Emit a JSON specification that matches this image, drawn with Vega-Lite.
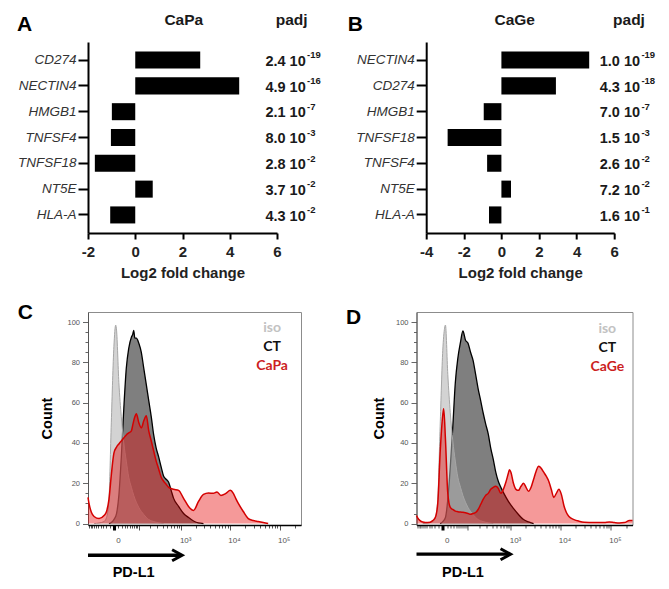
{
  "$schema": "https://vega.github.io/schema/vega-lite/v6.json",
  "background": "white",
  "padding": {"left": 16, "top": 12, "right": 0, "bottom": 0},
  "spacing": 20,
  "config": {
    "font": "Liberation Sans",
    "view": {"stroke": null},
    "axis": {"grid": false}
  },
  "datasets": {
    "degA": [
      {"gene": "CD274", "lfc": 2.75, "mant": "2.4", "exp": "-19"},
      {"gene": "NECTIN4", "lfc": 4.4, "mant": "4.9", "exp": "-16"},
      {"gene": "HMGB1", "lfc": -0.99, "mant": "2.1", "exp": "-7"},
      {"gene": "TNFSF4", "lfc": -1.03, "mant": "8.0", "exp": "-3"},
      {"gene": "TNFSF18", "lfc": -1.71, "mant": "2.8", "exp": "-2"},
      {"gene": "NT5E", "lfc": 0.74, "mant": "3.7", "exp": "-2"},
      {"gene": "HLA-A", "lfc": -1.06, "mant": "4.3", "exp": "-2"}
    ],
    "degB": [
      {"gene": "NECTIN4", "lfc": 4.67, "mant": "1.0", "exp": "-19"},
      {"gene": "CD274", "lfc": 2.9, "mant": "4.3", "exp": "-18"},
      {"gene": "HMGB1", "lfc": -0.94, "mant": "7.0", "exp": "-7"},
      {"gene": "TNFSF18", "lfc": -2.86, "mant": "1.5", "exp": "-3"},
      {"gene": "TNFSF4", "lfc": -0.76, "mant": "2.6", "exp": "-2"},
      {"gene": "NT5E", "lfc": 0.51, "mant": "7.2", "exp": "-2"},
      {"gene": "HLA-A", "lfc": -0.66, "mant": "1.6", "exp": "-1"}
    ],
    "flowC": [
      {"sample": "iso", "pdl1": -70, "count": 0}, {"sample": "iso", "pdl1": -46, "count": 0.3}, {"sample": "iso", "pdl1": -27, "count": 1}, {"sample": "iso", "pdl1": -19, "count": 3}, {"sample": "iso", "pdl1": -12, "count": 12}, {"sample": "iso", "pdl1": -6, "count": 50}, {"sample": "iso", "pdl1": 0, "count": 88}, {"sample": "iso", "pdl1": 4, "count": 98.5}, {"sample": "iso", "pdl1": 6, "count": 96}, {"sample": "iso", "pdl1": 12, "count": 70}, {"sample": "iso", "pdl1": 19, "count": 53}, {"sample": "iso", "pdl1": 27, "count": 40}, {"sample": "iso", "pdl1": 36, "count": 31}, {"sample": "iso", "pdl1": 46, "count": 23}, {"sample": "iso", "pdl1": 58, "count": 18}, {"sample": "iso", "pdl1": 70, "count": 14}, {"sample": "iso", "pdl1": 101, "count": 8}, {"sample": "iso", "pdl1": 139, "count": 4.5}, {"sample": "iso", "pdl1": 187, "count": 2}, {"sample": "iso", "pdl1": 247, "count": 1}, {"sample": "iso", "pdl1": 324, "count": 0.4}, {"sample": "iso", "pdl1": 419, "count": 0},
      {"sample": "CT", "pdl1": -12, "count": 0}, {"sample": "CT", "pdl1": -6, "count": 0.5}, {"sample": "CT", "pdl1": 0, "count": 2}, {"sample": "CT", "pdl1": 6, "count": 5}, {"sample": "CT", "pdl1": 12, "count": 14}, {"sample": "CT", "pdl1": 19, "count": 33}, {"sample": "CT", "pdl1": 27, "count": 57}, {"sample": "CT", "pdl1": 36, "count": 77}, {"sample": "CT", "pdl1": 46, "count": 87}, {"sample": "CT", "pdl1": 58, "count": 92.5}, {"sample": "CT", "pdl1": 65, "count": 94}, {"sample": "CT", "pdl1": 70, "count": 95.9}, {"sample": "CT", "pdl1": 76, "count": 92}, {"sample": "CT", "pdl1": 85, "count": 92}, {"sample": "CT", "pdl1": 101, "count": 89.5}, {"sample": "CT", "pdl1": 119, "count": 85}, {"sample": "CT", "pdl1": 139, "count": 77}, {"sample": "CT", "pdl1": 162, "count": 69}, {"sample": "CT", "pdl1": 187, "count": 61}, {"sample": "CT", "pdl1": 216, "count": 53}, {"sample": "CT", "pdl1": 247, "count": 44}, {"sample": "CT", "pdl1": 283, "count": 37.5}, {"sample": "CT", "pdl1": 324, "count": 33}, {"sample": "CT", "pdl1": 369, "count": 28}, {"sample": "CT", "pdl1": 419, "count": 23.5}, {"sample": "CT", "pdl1": 476, "count": 22}, {"sample": "CT", "pdl1": 540, "count": 20.5}, {"sample": "CT", "pdl1": 612, "count": 16.5}, {"sample": "CT", "pdl1": 692, "count": 12.5}, {"sample": "CT", "pdl1": 883, "count": 8.5}, {"sample": "CT", "pdl1": 1124, "count": 5}, {"sample": "CT", "pdl1": 1427, "count": 3}, {"sample": "CT", "pdl1": 1809, "count": 1.3}, {"sample": "CT", "pdl1": 2289, "count": 0.3}, {"sample": "CT", "pdl1": 2894, "count": 0},
      {"sample": "CaPa", "pdl1": -108, "count": 13}, {"sample": "CaPa", "pdl1": -101, "count": 10}, {"sample": "CaPa", "pdl1": -85, "count": 5.5}, {"sample": "CaPa", "pdl1": -70, "count": 3.5}, {"sample": "CaPa", "pdl1": -46, "count": 2.5}, {"sample": "CaPa", "pdl1": -27, "count": 4}, {"sample": "CaPa", "pdl1": -19, "count": 6}, {"sample": "CaPa", "pdl1": -12, "count": 12}, {"sample": "CaPa", "pdl1": -6, "count": 24}, {"sample": "CaPa", "pdl1": 0, "count": 35}, {"sample": "CaPa", "pdl1": 6, "count": 38}, {"sample": "CaPa", "pdl1": 12, "count": 39.5}, {"sample": "CaPa", "pdl1": 19, "count": 41}, {"sample": "CaPa", "pdl1": 27, "count": 42.5}, {"sample": "CaPa", "pdl1": 36, "count": 44}, {"sample": "CaPa", "pdl1": 46, "count": 45}, {"sample": "CaPa", "pdl1": 58, "count": 46}, {"sample": "CaPa", "pdl1": 65, "count": 49}, {"sample": "CaPa", "pdl1": 76, "count": 53}, {"sample": "CaPa", "pdl1": 85, "count": 54.5}, {"sample": "CaPa", "pdl1": 101, "count": 50}, {"sample": "CaPa", "pdl1": 119, "count": 47.5}, {"sample": "CaPa", "pdl1": 139, "count": 51}, {"sample": "CaPa", "pdl1": 162, "count": 53.5}, {"sample": "CaPa", "pdl1": 187, "count": 46}, {"sample": "CaPa", "pdl1": 216, "count": 41}, {"sample": "CaPa", "pdl1": 247, "count": 36}, {"sample": "CaPa", "pdl1": 283, "count": 31}, {"sample": "CaPa", "pdl1": 324, "count": 27}, {"sample": "CaPa", "pdl1": 369, "count": 23}, {"sample": "CaPa", "pdl1": 419, "count": 21}, {"sample": "CaPa", "pdl1": 476, "count": 19.5}, {"sample": "CaPa", "pdl1": 540, "count": 18}, {"sample": "CaPa", "pdl1": 692, "count": 17}, {"sample": "CaPa", "pdl1": 883, "count": 16.5}, {"sample": "CaPa", "pdl1": 1124, "count": 12.5}, {"sample": "CaPa", "pdl1": 1427, "count": 8.5}, {"sample": "CaPa", "pdl1": 1809, "count": 6.5}, {"sample": "CaPa", "pdl1": 2289, "count": 11}, {"sample": "CaPa", "pdl1": 2894, "count": 14.5}, {"sample": "CaPa", "pdl1": 3655, "count": 15.2}, {"sample": "CaPa", "pdl1": 4613, "count": 15}, {"sample": "CaPa", "pdl1": 5428, "count": 15.7}, {"sample": "CaPa", "pdl1": 6536, "count": 14}, {"sample": "CaPa", "pdl1": 8240, "count": 15}, {"sample": "CaPa", "pdl1": 10148, "count": 16.5}, {"sample": "CaPa", "pdl1": 11659, "count": 15}, {"sample": "CaPa", "pdl1": 13087, "count": 12.4}, {"sample": "CaPa", "pdl1": 14690, "count": 10}, {"sample": "CaPa", "pdl1": 18505, "count": 6}, {"sample": "CaPa", "pdl1": 23309, "count": 2.5}, {"sample": "CaPa", "pdl1": 29356, "count": 1.5}, {"sample": "CaPa", "pdl1": 36969, "count": 1}, {"sample": "CaPa", "pdl1": 46553, "count": 0.5}, {"sample": "CaPa", "pdl1": 58618, "count": 0}
    ],
    "flowD": [
      {"sample": "iso", "pdl1": -70, "count": 0}, {"sample": "iso", "pdl1": -46, "count": 0.3}, {"sample": "iso", "pdl1": -27, "count": 1}, {"sample": "iso", "pdl1": -19, "count": 3}, {"sample": "iso", "pdl1": -12, "count": 12}, {"sample": "iso", "pdl1": -6, "count": 48}, {"sample": "iso", "pdl1": 0, "count": 86}, {"sample": "iso", "pdl1": 4, "count": 97}, {"sample": "iso", "pdl1": 6, "count": 98.5}, {"sample": "iso", "pdl1": 12, "count": 74}, {"sample": "iso", "pdl1": 19, "count": 55}, {"sample": "iso", "pdl1": 27, "count": 41}, {"sample": "iso", "pdl1": 36, "count": 31}, {"sample": "iso", "pdl1": 46, "count": 23}, {"sample": "iso", "pdl1": 58, "count": 18}, {"sample": "iso", "pdl1": 70, "count": 14}, {"sample": "iso", "pdl1": 101, "count": 8}, {"sample": "iso", "pdl1": 139, "count": 4.5}, {"sample": "iso", "pdl1": 187, "count": 2}, {"sample": "iso", "pdl1": 247, "count": 1}, {"sample": "iso", "pdl1": 324, "count": 0.4}, {"sample": "iso", "pdl1": 419, "count": 0},
      {"sample": "CT", "pdl1": -6, "count": 0}, {"sample": "CT", "pdl1": 0, "count": 1}, {"sample": "CT", "pdl1": 6, "count": 3}, {"sample": "CT", "pdl1": 12, "count": 12}, {"sample": "CT", "pdl1": 19, "count": 28}, {"sample": "CT", "pdl1": 27, "count": 48}, {"sample": "CT", "pdl1": 36, "count": 70}, {"sample": "CT", "pdl1": 46, "count": 82}, {"sample": "CT", "pdl1": 58, "count": 90}, {"sample": "CT", "pdl1": 70, "count": 95.6}, {"sample": "CT", "pdl1": 85, "count": 91}, {"sample": "CT", "pdl1": 101, "count": 89.5}, {"sample": "CT", "pdl1": 119, "count": 85}, {"sample": "CT", "pdl1": 139, "count": 81}, {"sample": "CT", "pdl1": 162, "count": 74}, {"sample": "CT", "pdl1": 187, "count": 67}, {"sample": "CT", "pdl1": 216, "count": 61}, {"sample": "CT", "pdl1": 247, "count": 55}, {"sample": "CT", "pdl1": 283, "count": 49.5}, {"sample": "CT", "pdl1": 324, "count": 44.5}, {"sample": "CT", "pdl1": 369, "count": 37.5}, {"sample": "CT", "pdl1": 419, "count": 32}, {"sample": "CT", "pdl1": 476, "count": 25.5}, {"sample": "CT", "pdl1": 540, "count": 21}, {"sample": "CT", "pdl1": 612, "count": 18}, {"sample": "CT", "pdl1": 692, "count": 15.5}, {"sample": "CT", "pdl1": 883, "count": 11}, {"sample": "CT", "pdl1": 1124, "count": 7.5}, {"sample": "CT", "pdl1": 1427, "count": 4.5}, {"sample": "CT", "pdl1": 1809, "count": 2}, {"sample": "CT", "pdl1": 2289, "count": 0.8}, {"sample": "CT", "pdl1": 2894, "count": 0},
      {"sample": "CaGe", "pdl1": -108, "count": 4}, {"sample": "CaGe", "pdl1": -101, "count": 3}, {"sample": "CaGe", "pdl1": -85, "count": 1.5}, {"sample": "CaGe", "pdl1": -70, "count": 0.8}, {"sample": "CaGe", "pdl1": -46, "count": 0.5}, {"sample": "CaGe", "pdl1": -27, "count": 1.5}, {"sample": "CaGe", "pdl1": -19, "count": 3}, {"sample": "CaGe", "pdl1": -12, "count": 10}, {"sample": "CaGe", "pdl1": -6, "count": 35}, {"sample": "CaGe", "pdl1": 0, "count": 54}, {"sample": "CaGe", "pdl1": 2, "count": 57}, {"sample": "CaGe", "pdl1": 6, "count": 42}, {"sample": "CaGe", "pdl1": 12, "count": 15}, {"sample": "CaGe", "pdl1": 19, "count": 8}, {"sample": "CaGe", "pdl1": 27, "count": 7}, {"sample": "CaGe", "pdl1": 36, "count": 6.2}, {"sample": "CaGe", "pdl1": 46, "count": 5.9}, {"sample": "CaGe", "pdl1": 70, "count": 5.6}, {"sample": "CaGe", "pdl1": 101, "count": 5}, {"sample": "CaGe", "pdl1": 119, "count": 4.6}, {"sample": "CaGe", "pdl1": 139, "count": 5}, {"sample": "CaGe", "pdl1": 162, "count": 5.5}, {"sample": "CaGe", "pdl1": 187, "count": 7}, {"sample": "CaGe", "pdl1": 216, "count": 9.5}, {"sample": "CaGe", "pdl1": 247, "count": 12}, {"sample": "CaGe", "pdl1": 283, "count": 14}, {"sample": "CaGe", "pdl1": 324, "count": 15}, {"sample": "CaGe", "pdl1": 369, "count": 17}, {"sample": "CaGe", "pdl1": 419, "count": 18}, {"sample": "CaGe", "pdl1": 476, "count": 18.5}, {"sample": "CaGe", "pdl1": 540, "count": 17.5}, {"sample": "CaGe", "pdl1": 612, "count": 15}, {"sample": "CaGe", "pdl1": 692, "count": 17}, {"sample": "CaGe", "pdl1": 782, "count": 20.5}, {"sample": "CaGe", "pdl1": 883, "count": 25}, {"sample": "CaGe", "pdl1": 927, "count": 26.7}, {"sample": "CaGe", "pdl1": 997, "count": 25.5}, {"sample": "CaGe", "pdl1": 1124, "count": 20}, {"sample": "CaGe", "pdl1": 1267, "count": 17}, {"sample": "CaGe", "pdl1": 1427, "count": 16.5}, {"sample": "CaGe", "pdl1": 1607, "count": 18.5}, {"sample": "CaGe", "pdl1": 1809, "count": 20}, {"sample": "CaGe", "pdl1": 2035, "count": 18}, {"sample": "CaGe", "pdl1": 2289, "count": 16}, {"sample": "CaGe", "pdl1": 2574, "count": 18}, {"sample": "CaGe", "pdl1": 2894, "count": 22}, {"sample": "CaGe", "pdl1": 3252, "count": 26}, {"sample": "CaGe", "pdl1": 3655, "count": 28.4}, {"sample": "CaGe", "pdl1": 4107, "count": 27.5}, {"sample": "CaGe", "pdl1": 4613, "count": 25.5}, {"sample": "CaGe", "pdl1": 5182, "count": 23.5}, {"sample": "CaGe", "pdl1": 5820, "count": 21}, {"sample": "CaGe", "pdl1": 6536, "count": 17}, {"sample": "CaGe", "pdl1": 7339, "count": 13}, {"sample": "CaGe", "pdl1": 8240, "count": 15}, {"sample": "CaGe", "pdl1": 9251, "count": 17}, {"sample": "CaGe", "pdl1": 10386, "count": 14.5}, {"sample": "CaGe", "pdl1": 11659, "count": 9}, {"sample": "CaGe", "pdl1": 13087, "count": 5.5}, {"sample": "CaGe", "pdl1": 14690, "count": 3.5}, {"sample": "CaGe", "pdl1": 18505, "count": 2}, {"sample": "CaGe", "pdl1": 23309, "count": 1.2}, {"sample": "CaGe", "pdl1": 29356, "count": 0.7}, {"sample": "CaGe", "pdl1": 46553, "count": 0.5}, {"sample": "CaGe", "pdl1": 73814, "count": 0.5}, {"sample": "CaGe", "pdl1": 92934, "count": 0.8}, {"sample": "CaGe", "pdl1": 117008, "count": 0.5}, {"sample": "CaGe", "pdl1": 147316, "count": 0.3}, {"sample": "CaGe", "pdl1": 185473, "count": 0.5}, {"sample": "CaGe", "pdl1": 233508, "count": 1.5}, {"sample": "CaGe", "pdl1": 268000, "count": 1.5}
    ]
  },
  "vconcat": [
    {
      "bounds": "flush",
      "spacing": 149.2,
      "hconcat": [
        {
          "data": {"name": "degA"},
          "width": 189,
          "height": 191,
          "resolve": {"axis": {"x": "independent", "y": "independent"}},
          "layer": [
            {
              "mark": {"type": "bar", "color": "#000000"},
              "encoding": {
                "y": {"field": "gene", "type": "nominal", "sort": null,
                  "scale": {"paddingInner": 0.34, "paddingOuter": 0.37},
                  "axis": {"title": "A", "titleAngle": 0, "titleAlign": "left", "titleBaseline": "alphabetic", "titleX": -71.5, "titleY": -11.3, "titleFontSize": 21, "titleFontWeight": "bold", "titleColor": "#000000", "labelFontStyle": "italic", "labelFontSize": 13.5, "labelColor": "#333333", "labelPadding": 2, "tickSize": 10, "tickWidth": 2, "tickColor": "#000000", "domainColor": "#000000", "domainWidth": 2}},
                "x": {"field": "lfc", "type": "quantitative", "scale": {"domain": [-2, 6], "nice": false},
                  "axis": {"values": [-2, 0, 2, 4, 6], "labelExpr": "(datum.value < 0 ? '-' : '') + abs(datum.value)", "labelFlush": false, "title": "Log2 fold change", "titleFontSize": 15, "titleFontWeight": "bold", "titleColor": "#222222", "titleBaseline": "alphabetic", "titleY": 44.3, "labelFontSize": 15, "labelFontWeight": "bold", "labelColor": "#222222", "labelPadding": 5, "tickSize": 6, "tickWidth": 2, "tickColor": "#000000", "domainColor": "#000000", "domainWidth": 2}}
              }
            },
            {
              "transform": [{"calculate": "datum.mant + ' 10'", "as": "base"}],
              "mark": {"type": "text", "align": "left", "baseline": "alphabetic", "dy": 5.7, "fontSize": 14.5, "fontWeight": "bold", "color": "#1a1a1a"},
              "encoding": {
                "y": {"field": "gene", "type": "nominal", "sort": null,
                  "axis": {"orient": "right", "title": "padj", "titleAngle": 0, "titleAlign": "center", "titleBaseline": "alphabetic", "titleX": 14.2, "titleY": -18, "titleFontSize": 15.5, "titleFontWeight": "bold", "titleColor": "#1a1a1a", "labels": false, "ticks": false, "domain": false}},
                "x": {"datum": 5.51, "type": "quantitative",
                  "axis": {"orient": "top", "title": "CaPa", "titleX": 95.3, "titleY": -18, "titleAlign": "center", "titleBaseline": "alphabetic", "titleFontSize": 15.5, "titleFontWeight": "bold", "titleColor": "#1a1a1a", "labels": false, "ticks": false, "domain": false}},
                "text": {"field": "base"}
              }
            },
            {
              "mark": {"type": "text", "align": "left", "baseline": "alphabetic", "dx": 41.7, "dy": -1.7, "fontSize": 9.5, "fontWeight": "bold", "color": "#1a1a1a"},
              "encoding": {
                "y": {"field": "gene", "type": "nominal", "sort": null, "axis": null},
                "x": {"datum": 5.51, "type": "quantitative", "axis": null},
                "text": {"field": "exp"}
              }
            }
          ]
        },
        {
          "data": {"name": "degB"},
          "width": 188,
          "height": 191,
          "resolve": {"axis": {"x": "independent", "y": "independent"}},
          "layer": [
            {
              "mark": {"type": "bar", "color": "#000000"},
              "encoding": {
                "y": {"field": "gene", "type": "nominal", "sort": null,
                  "scale": {"paddingInner": 0.34, "paddingOuter": 0.37},
                  "axis": {"title": "B", "titleAngle": 0, "titleAlign": "left", "titleBaseline": "alphabetic", "titleX": -79, "titleY": -11.3, "titleFontSize": 21, "titleFontWeight": "bold", "titleColor": "#000000", "labelFontStyle": "italic", "labelFontSize": 13.5, "labelColor": "#333333", "labelPadding": 2, "tickSize": 10, "tickWidth": 2, "tickColor": "#000000", "domainColor": "#000000", "domainWidth": 2}},
                "x": {"field": "lfc", "type": "quantitative", "scale": {"domain": [-4, 6], "nice": false},
                  "axis": {"values": [-4, -2, 0, 2, 4, 6], "labelExpr": "(datum.value < 0 ? '-' : '') + abs(datum.value)", "labelFlush": false, "title": "Log2 fold change", "titleFontSize": 15, "titleFontWeight": "bold", "titleColor": "#222222", "titleBaseline": "alphabetic", "titleY": 44.3, "labelFontSize": 15, "labelFontWeight": "bold", "labelColor": "#222222", "labelPadding": 5, "tickSize": 6, "tickWidth": 2, "tickColor": "#000000", "domainColor": "#000000", "domainWidth": 2}}
              }
            },
            {
              "transform": [{"calculate": "datum.mant + ' 10'", "as": "base"}],
              "mark": {"type": "text", "align": "left", "baseline": "alphabetic", "dy": 5.7, "fontSize": 14.5, "fontWeight": "bold", "color": "#1a1a1a"},
              "encoding": {
                "y": {"field": "gene", "type": "nominal", "sort": null,
                  "axis": {"orient": "right", "title": "padj", "titleAngle": 0, "titleAlign": "center", "titleBaseline": "alphabetic", "titleX": 14.3, "titleY": -18, "titleFontSize": 15.5, "titleFontWeight": "bold", "titleColor": "#1a1a1a", "labels": false, "ticks": false, "domain": false}},
                "x": {"datum": 5.23, "type": "quantitative",
                  "axis": {"orient": "top", "title": "CaGe", "titleX": 88, "titleY": -18, "titleAlign": "center", "titleBaseline": "alphabetic", "titleFontSize": 15.5, "titleFontWeight": "bold", "titleColor": "#1a1a1a", "labels": false, "ticks": false, "domain": false}},
                "text": {"field": "base"}
              }
            },
            {
              "mark": {"type": "text", "align": "left", "baseline": "alphabetic", "dx": 41.7, "dy": -1.7, "fontSize": 9.5, "fontWeight": "bold", "color": "#1a1a1a"},
              "encoding": {
                "y": {"field": "gene", "type": "nominal", "sort": null, "axis": null},
                "x": {"datum": 5.23, "type": "quantitative", "axis": null},
                "text": {"field": "exp"}
              }
            }
          ]
        }
      ]
    },
    {
      "bounds": "flush",
      "spacing": 115.5,
      "hconcat": [
        {
          "data": {"name": "flowC"},
          "width": 213,
          "height": 213,
          "view": {"stroke": "#8c8c8c", "strokeWidth": 1},
          "resolve": {"axis": {"x": "independent", "y": "independent"}},
          "layer": [
            {
              "transform": [{"filter": "datum.sample === 'CT'"}],
              "mark": {"type": "area", "interpolate": "monotone", "fill": "#7f7f7f", "fillOpacity": 1, "opacity": 1, "line": {"color": "#000000", "strokeWidth": 1.3}},
              "encoding": {
                "x": {"field": "pdl1", "type": "quantitative", "scale": {"type": "symlog", "constant": 46.6, "domain": [-108, 268000], "nice": false},
                  "axis": {"values": [-100, -90, -80, -70, -60, -50, -40, -30, -20, -10, 0, 10, 20, 30, 40, 50, 60, 70, 80, 90, 100, 200, 300, 400, 500, 600, 700, 800, 900, 1000, 2000, 3000, 4000, 5000, 6000, 7000, 8000, 9000, 10000, 20000, 30000, 40000, 50000, 60000, 70000, 80000, 90000, 100000, 200000],
                    "labelExpr": "datum.value == 0 ? '0' : datum.value == 1000 ? '10³' : datum.value == 10000 ? '10⁴' : datum.value == 100000 ? '10⁵' : ''",
                    "labelFontSize": 8, "labelColor": "#555555", "labelOffset": 4, "labelPadding": 6, "labelOverlap": false, "labelFlush": false, "labelBound": false,
                    "tickSize": {"condition": {"test": "datum.value == 0 || datum.value == 100 || datum.value == 1000 || datum.value == 10000 || datum.value == 100000", "value": 5}, "value": 3},
                    "tickWidth": {"condition": {"test": "datum.value == 0", "value": 3}, "value": 1},
                    "tickColor": {"condition": {"test": "datum.value == 0", "value": "#000000"}, "value": "#555555"},
                    "domainColor": "#000000", "domainWidth": 1.5,
                    "title": "PD-L1", "titleFontSize": 14.5, "titleFontWeight": "bold", "titleColor": "#000000", "titleAlign": "left", "titleBaseline": "alphabetic", "titleX": 24.2, "titleY": 51.7}},
                "y": {"field": "count", "type": "quantitative", "stack": null, "scale": {"domain": [-0.7, 105], "nice": false, "zero": false},
                  "axis": {"values": [0, 5, 10, 15, 20, 25, 30, 35, 40, 45, 50, 55, 60, 65, 70, 75, 80, 85, 90, 95, 100],
                    "labelExpr": "datum.value % 20 === 0 ? datum.label : ''",
                    "labelFontSize": 7.5, "labelColor": "#555555", "labelPadding": 3, "labelOverlap": false,
                    "tickSize": {"condition": {"test": "datum.value % 20 === 0", "value": 5.5}, "value": 3},
                    "tickColor": "#666666", "domainColor": "#555555", "domainWidth": 1,
                    "title": "Count", "titleFontSize": 14.5, "titleFontWeight": "bold", "titleColor": "#000000", "titleX": -40.8, "titleY": 106, "titleBaseline": "middle", "titleAlign": "center"}}
              }
            },
            {
              "transform": [{"filter": "datum.sample === 'iso'"}],
              "mark": {"type": "area", "interpolate": "monotone", "fill": "#b0b0b0", "fillOpacity": 0.56, "opacity": 1, "line": {"color": "#a6a6a6", "strokeWidth": 1}},
              "encoding": {
                "x": {"field": "pdl1", "type": "quantitative", "axis": null},
                "y": {"field": "count", "type": "quantitative", "stack": null, "axis": null}
              }
            },
            {
              "transform": [{"filter": "datum.sample === 'CaPa'"}],
              "mark": {"type": "area", "interpolate": "monotone", "fill": "#e60000", "fillOpacity": 0.4, "opacity": 1, "line": {"color": "#d40000", "strokeWidth": 1.5}},
              "encoding": {
                "x": {"field": "pdl1", "type": "quantitative", "axis": null},
                "y": {"field": "count", "type": "quantitative", "stack": null, "axis": null}
              }
            },
            {
              "data": {"values": [{"label": "iso"}]},
              "mark": {"type": "text", "font": "Lato", "fontSize": 14, "fontWeight": "bold", "color": "#c2c2c2", "align": "center", "baseline": "middle"},
              "encoding": {
                "x": {"datum": 70300, "type": "quantitative",
                  "axis": {"orient": "top", "title": "C", "titleAngle": 0, "titleAlign": "left", "titleBaseline": "alphabetic", "titleX": -70.8, "titleY": 6.6, "titleFontSize": 21, "titleFontWeight": "bold", "titleColor": "#000000", "labels": false, "ticks": false, "domain": false}},
                "y": {"datum": 96.9, "type": "quantitative", "axis": null},
                "text": {"field": "label"}
              }
            },
            {
              "data": {"values": [{"label": "CT"}]},
              "mark": {"type": "text", "font": "Lato", "fontSize": 14, "fontWeight": "bold", "color": "#111111", "align": "center", "baseline": "middle"},
              "encoding": {
                "x": {"datum": 70300, "type": "quantitative", "axis": null},
                "y": {"datum": 87.6, "type": "quantitative", "axis": null},
                "text": {"field": "label"}
              }
            },
            {
              "data": {"values": [{"label": "CaPa"}]},
              "mark": {"type": "text", "font": "Lato", "fontSize": 14, "fontWeight": "bold", "color": "#cc1f1f", "align": "center", "baseline": "middle"},
              "encoding": {
                "x": {"datum": 70300, "type": "quantitative", "axis": null},
                "y": {"datum": 78.0, "type": "quantitative", "axis": null},
                "text": {"field": "label"}
              }
            },
            {
              "data": {"values": [{"label": "PD-L1 arrow"}]},
              "mark": {"type": "rule", "color": "#000000", "strokeWidth": 3.3},
              "encoding": {
                "x": {"datum": -108, "type": "quantitative", "axis": null},
                "x2": {"datum": 950},
                "y": {"datum": -15.7, "type": "quantitative", "axis": null}
              }
            },
            {
              "data": {"values": [{"label": "PD-L1 arrow"}]},
              "mark": {"type": "point", "shape": "M-1,-0.55L0,0L-1,0.55", "size": 400, "filled": false, "color": "#000000", "strokeWidth": 3, "opacity": 1},
              "encoding": {
                "x": {"datum": 1048, "type": "quantitative", "axis": null},
                "y": {"datum": -15.7, "type": "quantitative", "axis": null}
              }
            }
          ]
        },
        {
          "data": {"name": "flowD"},
          "width": 216,
          "height": 213,
          "view": {"stroke": "#8c8c8c", "strokeWidth": 1},
          "resolve": {"axis": {"x": "independent", "y": "independent"}},
          "layer": [
            {
              "transform": [{"filter": "datum.sample === 'CT'"}],
              "mark": {"type": "area", "interpolate": "monotone", "fill": "#7f7f7f", "fillOpacity": 1, "opacity": 1, "line": {"color": "#000000", "strokeWidth": 1.3}},
              "encoding": {
                "x": {"field": "pdl1", "type": "quantitative", "scale": {"type": "symlog", "constant": 46.6, "domain": [-108, 268000], "nice": false},
                  "axis": {"values": [-100, -90, -80, -70, -60, -50, -40, -30, -20, -10, 0, 10, 20, 30, 40, 50, 60, 70, 80, 90, 100, 200, 300, 400, 500, 600, 700, 800, 900, 1000, 2000, 3000, 4000, 5000, 6000, 7000, 8000, 9000, 10000, 20000, 30000, 40000, 50000, 60000, 70000, 80000, 90000, 100000, 200000],
                    "labelExpr": "datum.value == 0 ? '0' : datum.value == 1000 ? '10³' : datum.value == 10000 ? '10⁴' : datum.value == 100000 ? '10⁵' : ''",
                    "labelFontSize": 8, "labelColor": "#555555", "labelOffset": 4, "labelPadding": 6, "labelOverlap": false, "labelFlush": false, "labelBound": false,
                    "tickSize": {"condition": {"test": "datum.value == 0 || datum.value == 100 || datum.value == 1000 || datum.value == 10000 || datum.value == 100000", "value": 5}, "value": 3},
                    "tickWidth": {"condition": {"test": "datum.value == 0", "value": 3}, "value": 1},
                    "tickColor": {"condition": {"test": "datum.value == 0", "value": "#000000"}, "value": "#555555"},
                    "domainColor": "#000000", "domainWidth": 1.5,
                    "title": "PD-L1", "titleFontSize": 14.5, "titleFontWeight": "bold", "titleColor": "#000000", "titleAlign": "left", "titleBaseline": "alphabetic", "titleX": 25, "titleY": 51.7}},
                "y": {"field": "count", "type": "quantitative", "stack": null, "scale": {"domain": [-0.7, 105], "nice": false, "zero": false},
                  "axis": {"values": [0, 5, 10, 15, 20, 25, 30, 35, 40, 45, 50, 55, 60, 65, 70, 75, 80, 85, 90, 95, 100],
                    "labelExpr": "datum.value % 20 === 0 ? datum.label : ''",
                    "labelFontSize": 7.5, "labelColor": "#555555", "labelPadding": 3, "labelOverlap": false,
                    "tickSize": {"condition": {"test": "datum.value % 20 === 0", "value": 5.5}, "value": 3},
                    "tickColor": "#666666", "domainColor": "#555555", "domainWidth": 1,
                    "title": "Count", "titleFontSize": 14.5, "titleFontWeight": "bold", "titleColor": "#000000", "titleX": -36.8, "titleY": 106, "titleBaseline": "middle", "titleAlign": "center"}}
              }
            },
            {
              "transform": [{"filter": "datum.sample === 'iso'"}],
              "mark": {"type": "area", "interpolate": "monotone", "fill": "#b0b0b0", "fillOpacity": 0.56, "opacity": 1, "line": {"color": "#a6a6a6", "strokeWidth": 1}},
              "encoding": {
                "x": {"field": "pdl1", "type": "quantitative", "axis": null},
                "y": {"field": "count", "type": "quantitative", "stack": null, "axis": null}
              }
            },
            {
              "transform": [{"filter": "datum.sample === 'CaGe'"}],
              "mark": {"type": "area", "interpolate": "monotone", "fill": "#e60000", "fillOpacity": 0.4, "opacity": 1, "line": {"color": "#d40000", "strokeWidth": 1.5}},
              "encoding": {
                "x": {"field": "pdl1", "type": "quantitative", "axis": null},
                "y": {"field": "count", "type": "quantitative", "stack": null, "axis": null}
              }
            },
            {
              "data": {"values": [{"label": "iso"}]},
              "mark": {"type": "text", "font": "Lato", "fontSize": 14, "fontWeight": "bold", "color": "#c2c2c2", "align": "center", "baseline": "middle"},
              "encoding": {
                "x": {"datum": 84770, "type": "quantitative",
                  "axis": {"orient": "top", "title": "D", "titleAngle": 0, "titleAlign": "left", "titleBaseline": "alphabetic", "titleX": -71, "titleY": 11.6, "titleFontSize": 21, "titleFontWeight": "bold", "titleColor": "#000000", "labels": false, "ticks": false, "domain": false}},
                "y": {"datum": 96.4, "type": "quantitative", "axis": null},
                "text": {"field": "label"}
              }
            },
            {
              "data": {"values": [{"label": "CT"}]},
              "mark": {"type": "text", "font": "Lato", "fontSize": 14, "fontWeight": "bold", "color": "#111111", "align": "center", "baseline": "middle"},
              "encoding": {
                "x": {"datum": 84770, "type": "quantitative", "axis": null},
                "y": {"datum": 87.1, "type": "quantitative", "axis": null},
                "text": {"field": "label"}
              }
            },
            {
              "data": {"values": [{"label": "CaGe"}]},
              "mark": {"type": "text", "font": "Lato", "fontSize": 14, "fontWeight": "bold", "color": "#cc1f1f", "align": "center", "baseline": "middle"},
              "encoding": {
                "x": {"datum": 84770, "type": "quantitative", "axis": null},
                "y": {"datum": 77.5, "type": "quantitative", "axis": null},
                "text": {"field": "label"}
              }
            },
            {
              "data": {"values": [{"label": "PD-L1 arrow"}]},
              "mark": {"type": "rule", "color": "#000000", "strokeWidth": 3.3},
              "encoding": {
                "x": {"datum": -108, "type": "quantitative", "axis": null},
                "x2": {"datum": 890},
                "y": {"datum": -15.2, "type": "quantitative", "axis": null}
              }
            },
            {
              "data": {"values": [{"label": "PD-L1 arrow"}]},
              "mark": {"type": "point", "shape": "M-1,-0.55L0,0L-1,0.55", "size": 400, "filled": false, "color": "#000000", "strokeWidth": 3, "opacity": 1},
              "encoding": {
                "x": {"datum": 980, "type": "quantitative", "axis": null},
                "y": {"datum": -15.2, "type": "quantitative", "axis": null}
              }
            }
          ]
        }
      ]
    }
  ]
}
